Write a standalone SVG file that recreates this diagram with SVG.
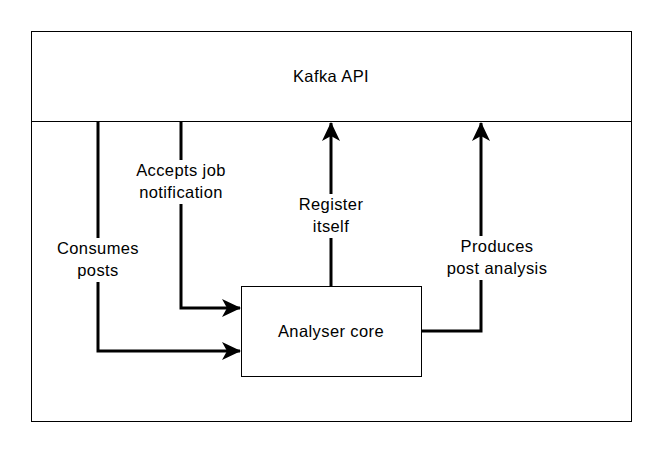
<svg xmlns="http://www.w3.org/2000/svg" width="662" height="452" viewBox="0 0 662 452">
<style>
.box{fill:#fff;stroke:#000;stroke-width:1}
.t{font-family:"Liberation Sans",Arial,sans-serif;font-size:16.5px;letter-spacing:0.4px;fill:#000;text-anchor:middle}
.c{fill:none;stroke:#000;stroke-width:3}
.bg{fill:#fff}
</style>
<defs>
<marker id="ah" viewBox="0 0 20 20" refX="18" refY="10" markerWidth="20" markerHeight="20" markerUnits="userSpaceOnUse" orient="auto">
<path d="M0,1 L19,10 L0,19 L5,10 Z" fill="#000"/>
</marker>
</defs>
<g id="kafka">
<rect class="box" x="31.5" y="31.5" width="600" height="390"/>
<line x1="31.5" y1="121.5" x2="631.5" y2="121.5" stroke="#000" stroke-width="1"/>
<text class="t" x="331" y="82">Kafka API</text>
</g>
<g id="core">
<rect class="box" x="241.5" y="286.5" width="180" height="90"/>
<text class="t" x="331" y="337">Analyser core</text>
</g>
<g id="connectors">
<path class="c" d="M98,122 V351 H240" marker-end="url(#ah)"/>
<path class="c" d="M181,122 V308 H240" marker-end="url(#ah)"/>
<path class="c" d="M331,286 V123" marker-end="url(#ah)"/>
<path class="c" d="M422,331 H481 V123" marker-end="url(#ah)"/>
<rect class="bg" x="56" y="238" width="84" height="44"/>
<text class="t" x="98" y="254">Consumes</text>
<text class="t" x="98" y="276">posts</text>
<rect class="bg" x="131" y="160" width="100" height="44"/>
<text class="t" x="181" y="176">Accepts job</text>
<text class="t" x="181" y="198">notification</text>
<rect class="bg" x="294" y="194" width="74" height="44"/>
<text class="t" x="331" y="210">Register</text>
<text class="t" x="331" y="232">itself</text>
<rect class="bg" x="443" y="236" width="108" height="44"/>
<text class="t" x="497" y="252">Produces</text>
<text class="t" x="497" y="274">post analysis</text>
</g>
</svg>
